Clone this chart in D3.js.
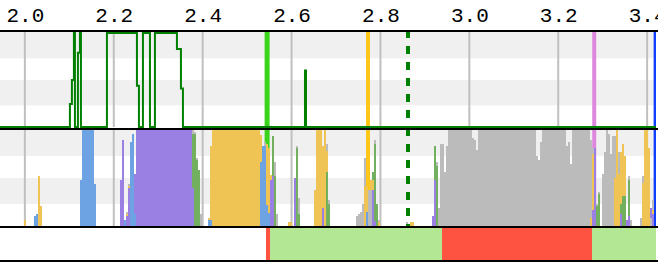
<!DOCTYPE html>
<html>
<head>
<meta charset="utf-8">
<script src="https://cdn.jsdelivr.net/npm/d3@7"></script>
<style>
body { margin: 0; background: #fff; }
svg { display: block; }
</style>
</head>
<body>
<svg id="chart" width="658" height="262"></svg>
<script>
// x positions (axis units) and tick labels
var xDomain = [1.944, 3.420];
var xTicks = [2.0, 2.2, 2.4, 2.6, 2.8, 3.0, 3.2, 3.4];
// shaded bands (fraction of panel height)
var bands = [[0.23, 0.5], [0.73, 1.02]];

// upper panel: step line [x, value]
var stepLine = [[1.944,0],[2.1013,0.245],[2.1058,0.5],[2.1103,1],[2.1126,0],[2.1193,0.79],[2.1238,1],[2.1261,0],
  [2.1846,1],[2.2521,0.44],[2.2566,0],[2.2656,1],[2.2814,0],[2.2926,1],[2.3421,0.83],[2.3511,0.41],[2.3556,0],
  [2.6302,0.6],[2.6325,0],[3.42,0]];

// vertical markers
var markers = [2.545, 2.772, 3.281, 3.418];
var markerWidths = [5, 4, 4, 3];
var refLine = 2.862;

// lower panel bars: [x0, x1, height]
var blue = [[2.0203,2.0248,0.10],[2.0248,2.0293,0.125],[2.1238,2.1283,0.48],[2.1283,2.1553,1.0],[2.1553,2.1598,0.44],
  [2.2228,2.2273,0.06],[2.2363,2.2408,0.875],[2.2408,2.2453,0.96],[2.2453,2.2498,0.125],[2.4119,2.4209,0.06],
  [2.5289,2.5334,0.67],[2.5334,2.5424,0.83],[2.5424,2.5469,0.22],[2.5469,2.5514,0.14],[2.7675,2.7720,0.15]];
var purple = [[2.2138,2.2183,0.48],[2.2183,2.2228,0.90],[2.2228,2.2273,0.06],[2.2273,2.2318,0.10],[2.2318,2.2363,0.40],
  [2.2453,2.2498,0.54],[2.2498,2.3759,1.0],[2.3759,2.3804,0.40],[2.5514,2.5559,0.48],[2.5559,2.5604,0.52],
  [2.6054,2.6099,0.5],[2.6685,2.6730,0.19],[2.7810,2.7855,0.375],[2.7855,2.7900,0.05],[2.9160,2.9205,0.1],
  [2.9205,2.9250,0.48],[3.2761,3.2806,0.17],[3.2806,3.2851,0.81],[3.3391,3.3436,0.125],[3.3526,3.3571,0.06],
  [3.3571,3.3616,0.1],[3.4066,3.4111,0.19],[3.4111,3.4156,0.125]];
var yellow = [[1.9977,2.0023,0.06],[2.0293,2.0338,0.52],[2.0338,2.0383,0.21],[2.2273,2.2318,0.125],[2.2318,2.2363,0.42],
  [2.4119,2.4164,0.08],[2.4164,2.4209,0.83],[2.4209,2.5289,1.0],[2.5289,2.5334,0.95],[2.5424,2.5469,0.85],
  [2.5469,2.5514,0.81],[2.5514,2.5559,0.53],[2.5919,2.6009,0.04],[2.6505,2.6550,0.375],[2.6550,2.6685,1.0],
  [2.6685,2.6730,0.83],[2.6730,2.6775,1.0],[2.6775,2.6820,0.78],[2.7630,2.7720,0.42],[2.7765,2.7855,0.48],
  [2.7945,2.7990,0.04],[2.8665,2.8755,0.04],[3.2716,3.2761,0.08],[3.2761,3.2806,0.75],[3.3256,3.3301,0.5],
  [3.3301,3.3346,1.0],[3.3346,3.3391,0.54],[3.3391,3.3436,0.77],[3.3436,3.3481,0.85],[3.3481,3.3526,0.73],
  [3.3526,3.3571,0.06],[3.3886,3.3931,0.45],[3.3931,3.4021,1.0],[3.4021,3.4066,0.81],[3.4111,3.4156,0.17]];
var green = [[2.3759,2.3849,0.96],[2.3849,2.3894,0.69],[2.3894,2.3939,0.58],[2.5559,2.5604,0.94],[2.5604,2.5649,0.52],
  [2.6099,2.6144,0.81],[2.6144,2.6189,0.125],[2.6775,2.6820,0.56],[2.6820,2.6865,0.23],[2.7810,2.7855,0.56],
  [2.7855,2.7900,0.85],[2.7900,2.7945,0.23],[2.9205,2.9250,0.83],[2.9250,2.9295,0.625],[3.2851,3.2896,0.21],
  [3.2896,3.2941,0.33],[3.3391,3.3436,0.23],[3.3436,3.3526,0.31],[3.3571,3.3616,0.48]];
var gray = [[2.2273,2.2318,0.146],[2.2318,2.2363,0.44],[2.3759,2.3804,1.0],[2.3804,2.3849,0.98],[2.3849,2.3894,0.71],
  [2.3939,2.3984,0.125],[2.5379,2.5424,0.875],[2.5604,2.5649,0.67],[2.5649,2.5694,0.125],[2.6099,2.6144,0.83],
  [2.6144,2.6189,0.29],[2.6775,2.6820,0.85],[2.6820,2.6865,0.27],[2.7450,2.7495,0.1],[2.7495,2.7540,0.125],
  [2.7540,2.7585,0.15],[2.7585,2.7630,0.23],[2.7630,2.7675,0.71],[2.7720,2.7810,0.375],[2.7855,2.7900,0.9],
  [2.7945,2.7990,0.06],[2.8575,2.8620,0.04],[2.9250,2.9295,0.67],[2.9295,2.9340,0.19],[2.9340,2.9430,0.85],
  [2.9430,2.9475,0.56],[2.9475,2.9520,0.83],[2.9520,3.0061,1.0],[3.0061,3.0106,0.92],[3.0106,3.0151,0.9],
  [3.0151,3.0196,0.79],[3.0196,3.1501,1.0],[3.1501,3.1546,0.73],[3.1546,3.1591,0.69],[3.1591,3.1636,0.875],
  [3.1636,3.2176,1.0],[3.2176,3.2221,0.83],[3.2221,3.2266,0.875],[3.2266,3.2311,0.65],[3.2311,3.2716,1.0],
  [3.2716,3.2761,0.9],[3.2761,3.2806,0.81],[3.2851,3.2896,0.23],[3.2896,3.2941,0.35],[3.2986,3.3031,0.54],
  [3.3031,3.3076,0.77],[3.3076,3.3121,1.0],[3.3121,3.3166,0.96],[3.3166,3.3211,0.75],[3.3211,3.3301,0.94],
  [3.3346,3.3391,0.77],[3.3571,3.3616,0.52],[3.3616,3.3661,0.06],[3.3841,3.3886,0.08],[3.3886,3.3931,0.52],
  [3.4066,3.4111,0.08],[3.4111,3.4156,0.27]];

// bottom strip: [x0, x1, state]
var strip = [[2.5424,2.5514,"B"],[2.5514,2.9386,"A"],[2.9386,3.2762,"B"],[3.2762,3.4202,"A"]];

var width = 658, plotW = 656;
var svg = d3.select("#chart");

var x = d3.scaleLinear().domain(xDomain).range([0, plotW]);
var yTop = d3.scaleLinear().domain([0, 1]).range([127, 33]);
var yBot = d3.scaleLinear().domain([0, 1]).range([226, 130]);

var barColors = {gray: "#bbbbbb", blue: "#6ea3e3", purple: "#9a80e2", yellow: "#f0c454", green: "#72b060"};
var markerColors = ["#3ad41a", "#ffc61a", "#dd88dd", "#1040ff"];
var stripColor = d3.scaleOrdinal().domain(["A", "B"]).range(["#b3e794", "#ff5342"]);

svg.append("clipPath").attr("id", "plotclip")
  .append("rect").attr("x", 0).attr("y", 0).attr("width", plotW).attr("height", 262);

var plot = svg.append("g").attr("clip-path", "url(#plotclip)");

// axis on top
var axis = svg.append("g")
  .attr("transform", "translate(0,25)")
  .call(d3.axisTop(x).tickValues(xTicks).tickFormat(d3.format(".1f")).tickSize(0).tickPadding(3));
axis.select(".domain").remove();
axis.selectAll("text")
  .style("font-family", "'Liberation Mono', monospace")
  .style("font-size", "21px")
  .attr("fill", "#000");

// panel backgrounds
[yTop, yBot].forEach(function(y){
  plot.selectAll(null).data(bands).enter().append("rect")
    .attr("x", 0).attr("width", plotW)
    .attr("y", function(d){ return y(d[1]); })
    .attr("height", function(d){ return y(d[0]) - y(d[1]); })
    .attr("fill", "#f0f0f0");
  plot.selectAll(null).data(xTicks).enter().append("line")
    .attr("x1", function(d){ return x(d); }).attr("x2", function(d){ return x(d); })
    .attr("y1", y(1.02)).attr("y2", y(0))
    .attr("stroke", "#c0c0c0").attr("stroke-width", 2);
  plot.selectAll(null).data(markers).enter().append("line")
    .attr("x1", function(d){ return x(d); }).attr("x2", function(d){ return x(d); })
    .attr("y1", y(1.02)).attr("y2", y(0))
    .attr("stroke", function(d, i){ return markerColors[i]; })
    .attr("stroke-width", function(d, i){ return markerWidths[i]; });
});

// upper step line
var line = d3.line().curve(d3.curveStepAfter)
  .x(function(d){ return x(d[0]); })
  .y(function(d){ return yTop(d[1]); });
plot.append("path").datum(stepLine)
  .attr("d", line)
  .attr("fill", "none")
  .attr("stroke", "#008000")
  .attr("stroke-width", 2);

// lower bars, tallest drawn first
var series = {gray: gray, green: green, yellow: yellow, purple: purple, blue: blue};
var bars = [];
Object.keys(series).forEach(function(k){
  series[k].forEach(function(d){ bars.push({x0: d[0], x1: d[1], h: d[2], key: k}); });
});
bars.sort(function(a, b){ return b.h - a.h; });
plot.append("g").attr("shape-rendering", "crispEdges")
  .selectAll("rect").data(bars).enter().append("rect")
  .attr("x", function(d){ return x(d.x0); })
  .attr("width", function(d){ return x(d.x1) - x(d.x0); })
  .attr("y", function(d){ return yBot(d.h); })
  .attr("height", function(d){ return yBot(0) - yBot(d.h); })
  .attr("fill", function(d){ return barColors[d.key]; });

// dashed reference line
[[30, 127], [128, 226]].forEach(function(r){
  plot.append("line")
    .attr("x1", x(refLine)).attr("x2", x(refLine))
    .attr("y1", r[0]).attr("y2", r[1])
    .attr("stroke", "#008000").attr("stroke-width", 4)
    .attr("stroke-dasharray", "8,8");
});

// bottom strip
plot.append("g").attr("shape-rendering", "crispEdges")
  .selectAll("rect").data(strip).enter().append("rect")
  .attr("x", function(d){ return x(d[0]); })
  .attr("width", function(d){ return x(d[1]) - x(d[0]); })
  .attr("y", 228).attr("height", 32)
  .attr("fill", function(d){ return stripColor(d[2]); });

// panel borders
svg.selectAll(".border").data([31, 129, 227, 261]).enter().append("line")
  .attr("class", "border")
  .attr("x1", 0).attr("x2", width)
  .attr("y1", function(d){ return d; }).attr("y2", function(d){ return d; })
  .attr("stroke", "#000").attr("stroke-width", 2);
</script>
</body>
</html>
